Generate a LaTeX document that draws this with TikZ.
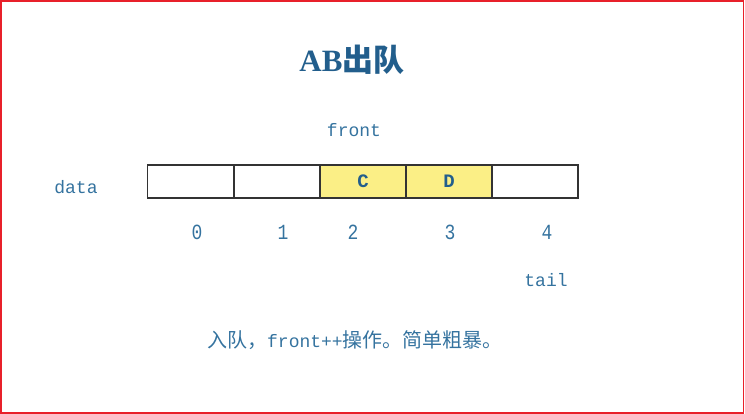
\documentclass[tikz,border=0pt]{standalone}
\usepackage{fontspec}
\setmainfont{Liberation Serif}
\setmonofont{Liberation Mono}
\newfontfamily\cjk{Noto Sans CJK SC}
\definecolor{txtblue}{HTML}{35739F}
\definecolor{titleblue}{HTML}{225E8C}
\definecolor{cellyellow}{HTML}{FBEF86}
\definecolor{frame}{HTML}{E8202A}
\tikzset{
  cell/.style={draw=black!80, line width=1.25pt, minimum width=86pt, minimum height=33pt, inner sep=0pt, outer sep=0pt},
  filled/.style={cell, fill=cellyellow},
  lbl/.style={text=txtblue, font=\ttfamily\fontsize{18}{20}\selectfont, inner sep=0pt},
  digit/.style={lbl, yscale=1.2},
  val/.style={text=titleblue, font=\ttfamily\bfseries\fontsize{19}{20}\selectfont, inner sep=0pt},
}
\begin{document}
\begin{tikzpicture}[x=1pt, y=-1pt]
\useasboundingbox (0,0) rectangle (745,414);
\draw[frame, line width=1.6pt] (0.8,0.8) rectangle (743.5,413.2);
\node[text=titleblue, inner sep=0pt] (title) at (352,60) {\fontsize{31}{34}\selectfont\textbf{AB}{\cjk\bfseries 出队}};
\node[lbl] (front) at (354,130) {front};
\node[lbl] (data) at (76,187) {data};
\node[cell] (c0) at (190.5,181.5) {};
\node[cell] (c1) at (277,181.5) {};
\node[filled] (c2) at (363,181.5) {};
\node[filled] (c3) at (449,181.5) {};
\node[cell] (c4) at (535,181.5) {};
\node[val] (vc) at (c2) {C};
\node[val] (vd) at (c3) {D};
\node[digit] (i0) at (197,232) {0};
\node[digit] (i1) at (283,232) {1};
\node[digit] (i2) at (353,232) {2};
\node[digit] (i3) at (450,232) {3};
\node[digit] (i4) at (547,232) {4};
\node[lbl] (tail) at (546,280) {tail};
\node[lbl] (note) at (355,340) {{\cjk\fontsize{20}{22}\selectfont 入队，}front++{\cjk\fontsize{20}{22}\selectfont 操作。简单粗暴。}};
\end{tikzpicture}
\end{document}
